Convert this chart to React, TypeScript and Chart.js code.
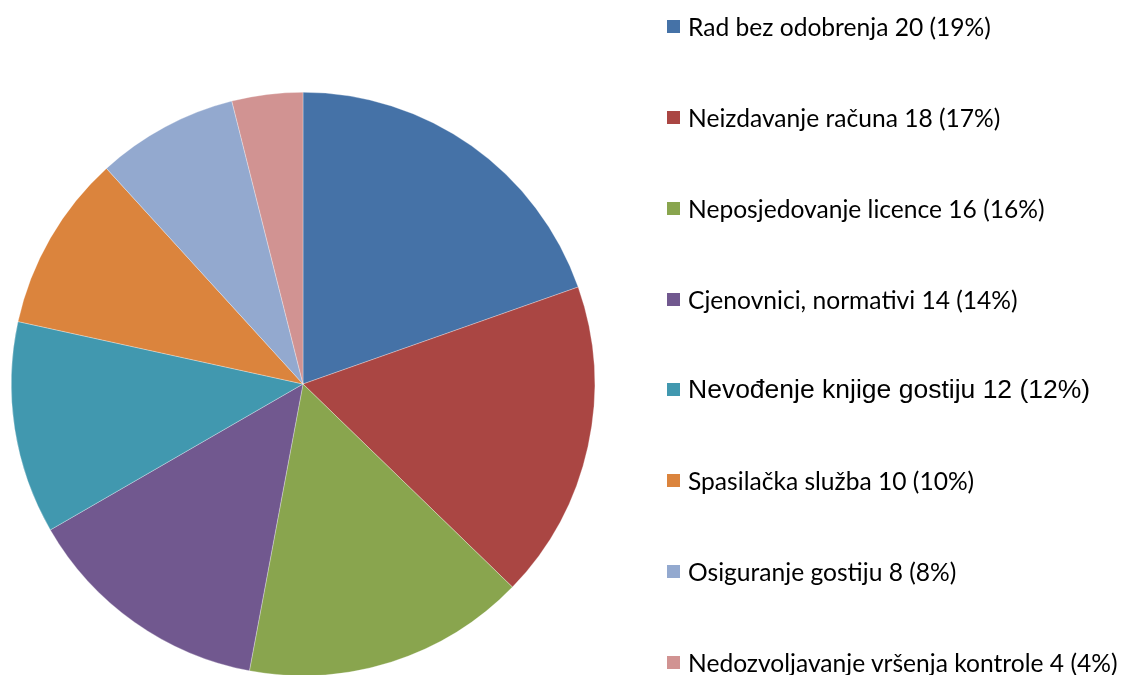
import React, { useEffect, useRef } from "react";
import { Chart, registerables } from "chart.js";

Chart.register(...registerables);

const categories = [
  "Rad bez odobrenja",
  "Neizdavanje računa",
  "Neposjedovanje licence",
  "Cjenovnici, normativi",
  "Nevođenje knjige gostiju",
  "Spasilačka služba",
  "Osiguranje gostiju",
  "Nedozvoljavanje vršenja kontrole",
];
const values = [20, 18, 16, 14, 12, 10, 8, 4];
const percents = ["19%", "17%", "16%", "14%", "12%", "10%", "8%", "4%"];
const colors = ["#4572A7", "#AA4643", "#89A54E", "#71588F", "#4198AF", "#DB843D", "#93A9CF", "#D19392"];

export default function App() {
  const ref = useRef<HTMLCanvasElement>(null);
  useEffect(() => {
    document.body.style.margin = "0";
    const chart = new Chart(ref.current!, {
      type: "pie",
      data: {
        labels: categories,
        datasets: [
          {
            data: values,
            backgroundColor: colors,
            borderColor: "rgba(255,255,255,0.6)",
            borderWidth: 0.5,
          },
        ],
      },
      options: {
        animation: false,
        responsive: false,
        maintainAspectRatio: false,
        layout: { padding: { left: 11, top: 92, right: 529, bottom: 24 } },
        plugins: { legend: { display: false }, tooltip: { enabled: false } },
      },
    });
    return () => chart.destroy();
  }, []);

  const rowTops = [26, 117, 208, 299, 389, 480, 571, 662];
  return (
    <div style={{ position: "fixed", left: 0, top: 0, width: 1124, height: 675, overflow: "hidden", background: "#fff" }}>
      <canvas ref={ref} width={1124} height={700} style={{ position: "absolute", left: 0, top: 0 }} />
      {categories.map((c, i) => (
        <div
          key={c}
          style={{
            position: "absolute",
            left: 667,
            top: rowTops[i] - 15,
            height: 30,
            display: "flex",
            alignItems: "center",
            whiteSpace: "nowrap",
            fontFamily: i === 4 ? "'Liberation Sans', Arial, sans-serif" : "Lato, 'Open Sans', sans-serif",
            fontSize: i === 4 ? 26.5 : 24.6,
            color: "#000",
          }}
        >
          <span style={{ display: "inline-block", width: 13, height: 13, background: colors[i], marginRight: 8, flexShrink: 0 }} />
          <span>{`${c} ${values[i]} (${percents[i]})`}</span>
        </div>
      ))}
    </div>
  );
}
